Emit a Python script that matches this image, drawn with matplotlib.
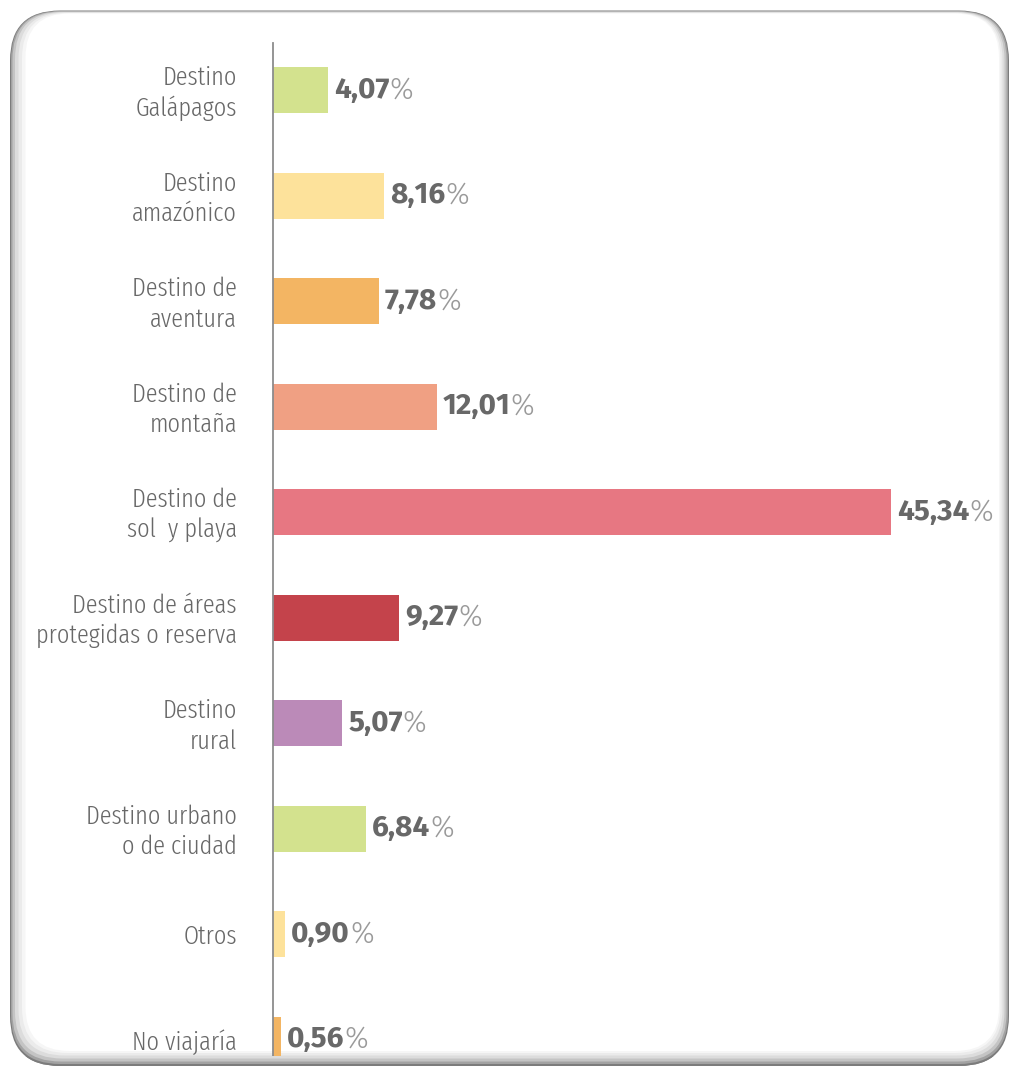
import matplotlib
matplotlib.use("Agg")
import matplotlib.pyplot as plt
from matplotlib.patches import FancyBboxPatch, Rectangle
from matplotlib import transforms

# Data
categories = [
    "Destino\nGalápagos",
    "Destino\namazónico",
    "Destino de\naventura",
    "Destino de\nmontaña",
    "Destino de\nsol  y playa",
    "Destino de áreas\nprotegidas o reserva",
    "Destino\nrural",
    "Destino urbano\no de ciudad",
    "Otros",
    "No viajaría",
]
values = [4.07, 8.16, 7.78, 12.01, 45.34, 9.27, 5.07, 6.84, 0.90, 0.56]
colors = ["#d3e28e", "#fde29b", "#f3b563", "#f0a083", "#e77782",
          "#c4434b", "#bb8ab8", "#d3e28e", "#fde29b", "#f3b563"]

W, H = 1010, 1066
fig = plt.figure(figsize=(W / 100, H / 100), dpi=100)
fig.patch.set_facecolor("white")


def pixel_axes():
    a = fig.add_axes([0, 0, 1, 1])
    a.set_xlim(0, W)
    a.set_ylim(H, 0)
    a.axis("off")
    a.set_facecolor("none")
    return a


def rbox(ax, x0, y0, x1, y1, r, **kw):
    p = FancyBboxPatch((x0 + r, y0 + r), (x1 - x0) - 2 * r, (y1 - y0) - 2 * r,
                       boxstyle=f"round,pad={r}", **kw)
    ax.add_patch(p)
    return p


# bevelled rounded panel: darker rim on the left, right and bottom
rim_layers = [
    ((10.0, 10.5, 1009.0, 1066.0), 50, "#7c7c7c"),
    ((11.0, 11.0, 1008.0, 1064.0), 49, "#a2a2a2"),
    ((12.5, 11.5, 1006.5, 1061.5), 48, "#c4c4c4"),
    ((15.0, 12.0, 1004.5, 1058.5), 47, "#dcdcdc"),
    ((18.5, 12.5, 1002.5, 1055.5), 46, "#ebebeb"),
    ((22.0, 13.0, 1000.5, 1053.0), 45, "#f6f6f6"),
    ((25.5, 13.5, 999.0, 1051.0), 44, "#ffffff"),
]


def draw_panel(ax, clip=None):
    for (x0, y0, x1, y1), r, c in rim_layers:
        p = rbox(ax, x0, y0, x1, y1, r, facecolor=c, edgecolor="none", lw=0)
        if clip is not None:
            p.set_clip_path(clip)


bg = pixel_axes()
draw_panel(bg)

# Bar chart axes
left_px, right_px, top_px, bot_px = 273, 1000, 43, 1056
y0_px, step_px = 90, 105.5
ax = fig.add_axes([left_px / W, 1 - bot_px / H,
                   (right_px - left_px) / W, (bot_px - top_px) / H])
ax.set_facecolor("none")
px_per_unit = 618 / 45.34
ax.set_xlim(0, (right_px - left_px) / px_per_unit)
ax.set_ylim((bot_px - y0_px) / step_px, (top_px - y0_px) / step_px)

ypos = list(range(len(values)))
ax.barh(ypos, values, height=46 / step_px, color=colors, edgecolor="none", zorder=2)

for s in ["top", "right", "bottom"]:
    ax.spines[s].set_visible(False)
ax.spines["left"].set_color("#8c8c8c")
ax.spines["left"].set_linewidth(1.3)
ax.set_xticks([])
ax.set_yticks([])

label_font = ["Fira Sans Extra Condensed", "Fira Sans Condensed", "DejaVu Sans"]
value_font = ["Fira Sans", "DejaVu Sans"]

lab_tr = transforms.offset_copy(ax.get_yaxis_transform(), fig=fig, x=-36, y=0, units="dots")
for y, lab in zip(ypos, categories):
    ax.text(0, y + 0.03, lab, transform=lab_tr, ha="right", va="center",
            family=label_font, fontweight=300, fontsize=19, color="#686868",
            linespacing=1.28, clip_on=False)

num_tr = transforms.offset_copy(ax.transData, fig=fig, x=6, y=0, units="dots")
for y, v in zip(ypos, values):
    t = ax.text(v, y, f"{v:.2f}".replace(".", ","), transform=num_tr,
                ha="left", va="center", family=value_font, fontweight="bold",
                fontsize=21.5, color="#686868")
    ax.annotate("%", xy=(1, 0), xycoords=t, ha="left", va="bottom",
                family=value_font, fontweight=300, fontsize=21.5, color="#9a9a9a")

# bottom rim repeated on top so the last row is cut by the panel edge
ov = pixel_axes()
clip_rect = Rectangle((0, 1055.5), W, H - 1055.5, transform=ov.transData)
draw_panel(ov, clip=clip_rect)

fig.savefig("out.png", dpi=100)
